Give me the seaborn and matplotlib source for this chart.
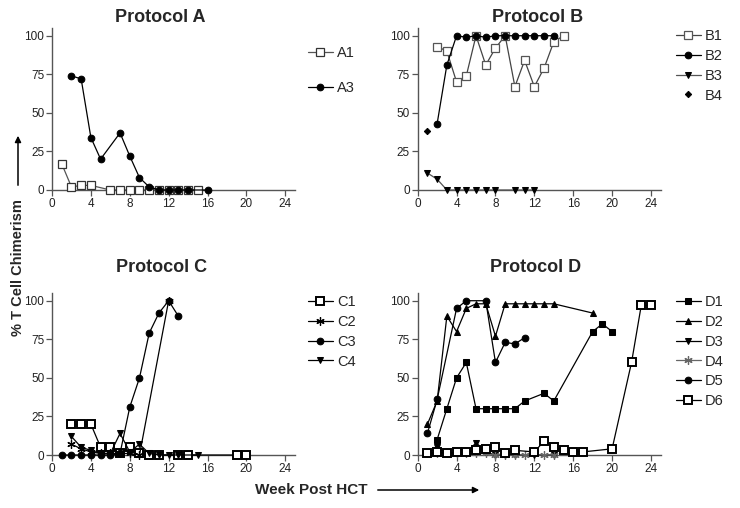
import numpy as np
import pandas as pd
import matplotlib
matplotlib.use("Agg")
import matplotlib.pyplot as plt
import seaborn as sns

# ---------------- data ----------------
A1_weeks = [1, 2, 3, 4, 6, 7, 8, 9, 10, 11, 12, 13, 14, 15]
A1_vals = [17, 2, 3, 3, 0, 0, 0, 0, 0, 0, 0, 0, 0, 0]
A3_weeks = [2, 3, 4, 5, 7, 8, 9, 10, 11, 12, 13, 14, 16]
A3_vals = [74, 72, 34, 20, 37, 22, 8, 2, 0, 0, 0, 0, 0]

B1_weeks = [2, 3, 4, 5, 6, 7, 8, 9, 10, 11, 12, 13, 14, 15]
B1_vals = [93, 90, 70, 74, 100, 81, 92, 100, 67, 84, 67, 79, 96, 100]
B2_weeks = [2, 3, 4, 5, 6, 7, 8, 9, 10, 11, 12, 13, 14]
B2_vals = [43, 81, 100, 99, 100, 99, 100, 100, 100, 100, 100, 100, 100]
B3_weeks = [1, 2, 3, 4, 5, 6, 7, 8, 10, 11, 12]
B3_vals = [11, 7, 0, 0, 0, 0, 0, 0, 0, 0, 0]
B4_weeks = [1]
B4_vals = [38]

C1_weeks = [2, 3, 4, 5, 6, 7, 8, 9, 10, 11, 13, 14, 19, 20]
C1_vals = [20, 20, 20, 5, 5, 1, 5, 1, 0, 0, 0, 0, 0, 0]
C2_weeks = [2, 3, 4, 5, 6, 7, 8, 9, 12]
C2_vals = [7, 4, 2, 1, 1, 1, 1, 0, 100]
C3_weeks = [1, 2, 3, 4, 5, 6, 7, 8, 9, 10, 11, 12, 13]
C3_vals = [0, 0, 0, 0, 0, 0, 1, 31, 50, 79, 92, 100, 90]
C4_weeks = [2, 3, 4, 5, 6, 7, 8, 9, 10, 11, 12, 13, 15]
C4_vals = [12, 5, 3, 1, 1, 14, 2, 7, 1, 0, 0, 0, 0]

D1_weeks = [2, 3, 4, 5, 6, 7, 8, 9, 10, 11, 13, 14, 18, 19, 20]
D1_vals = [10, 30, 50, 60, 30, 30, 30, 30, 30, 35, 40, 35, 80, 85, 80]
D2_weeks = [1, 2, 3, 4, 5, 6, 7, 8, 9, 10, 11, 12, 13, 14, 18]
D2_vals = [20, 35, 90, 80, 95, 98, 98, 77, 98, 98, 98, 98, 98, 98, 92]
D3_weeks = [1, 2, 3, 4, 5, 6, 7, 8, 9, 10, 12, 14]
D3_vals = [1, 5, 1, 1, 1, 8, 2, 0, 0, 0, 0, 0]
D4_weeks = [1, 2, 3, 4, 5, 6, 7, 8, 9, 10, 11, 13, 14]
D4_vals = [1, 1, 1, 1, 1, 1, 1, 0, 0, 0, 0, 0, 0]
D5_weeks = [1, 2, 4, 5, 7, 8, 9, 10, 11]
D5_vals = [14, 36, 95, 100, 100, 60, 73, 72, 76]
D6_weeks = [1, 2, 3, 4, 5, 6, 7, 8, 9, 10, 12, 13, 14, 15, 16, 17, 20, 22, 23, 24]
D6_vals = [1, 2, 1, 2, 2, 3, 4, 5, 1, 3, 2, 9, 5, 3, 2, 2, 4, 60, 97, 97]

titles = ["Protocol A", "Protocol B", "Protocol C", "Protocol D"]
x_ticks = [0, 4, 8, 12, 16, 20, 24]
y_ticks = [0, 25, 50, 75, 100]

# ---------------- styles ----------------
ASTER = (6, 2, 0)
MS = 4.8
open_sq = dict(marker="s", markerfacecolor="white", markersize=5.2)
styles = {
    "A1": dict(color="#555555", markeredgecolor="#333333", markeredgewidth=0.9, **open_sq),
    "A3": dict(color="black", marker="o", markersize=MS, markeredgecolor="black"),
    "B1": dict(color="#444444", markeredgecolor="#555555", markeredgewidth=0.9, **open_sq),
    "B2": dict(color="black", marker="o", markersize=MS, markeredgecolor="black"),
    "B3": dict(color="#555555", marker="v", markersize=MS, markeredgecolor="black", markerfacecolor="black"),
    "B4": dict(color="black", marker="D", markersize=3.2, markeredgecolor="black"),
    "C1": dict(color="black", markeredgecolor="black", markeredgewidth=1.4, **open_sq),
    "C2": dict(color="black", marker=ASTER, markersize=6, markeredgecolor="black", markeredgewidth=0.9),
    "C3": dict(color="black", marker="o", markersize=MS, markeredgecolor="black"),
    "C4": dict(color="black", marker="v", markersize=MS, markeredgecolor="black"),
    "D1": dict(color="black", marker="s", markersize=MS, markeredgecolor="black"),
    "D2": dict(color="black", marker="^", markersize=MS, markeredgecolor="black"),
    "D3": dict(color="black", marker="v", markersize=MS, markeredgecolor="black"),
    "D4": dict(color="#666666", marker=ASTER, markersize=6, markeredgecolor="#666666", markeredgewidth=0.9),
    "D5": dict(color="black", marker="o", markersize=MS, markeredgecolor="black"),
    "D6": dict(color="black", markeredgecolor="black", markeredgewidth=1.4, **open_sq),
}

panels = [
    [("A1", A1_weeks, A1_vals), ("A3", A3_weeks, A3_vals)],
    [("B1", B1_weeks, B1_vals), ("B2", B2_weeks, B2_vals), ("B3", B3_weeks, B3_vals), ("B4", B4_weeks, B4_vals)],
    [("C1", C1_weeks, C1_vals), ("C2", C2_weeks, C2_vals), ("C3", C3_weeks, C3_vals), ("C4", C4_weeks, C4_vals)],
    [("D1", D1_weeks, D1_vals), ("D2", D2_weeks, D2_vals), ("D3", D3_weeks, D3_vals),
     ("D4", D4_weeks, D4_vals), ("D5", D5_weeks, D5_vals), ("D6", D6_weeks, D6_vals)],
]

sns.set_theme(style="ticks")
plt.rcParams["font.family"] = ["Liberation Sans", "DejaVu Sans"]

W, H = 740, 508
fig = plt.figure(figsize=(W / 100, H / 100), dpi=100)

ax_w = 243 / W
ax_h = 162 / H
lefts = [52 / W, 417.7 / W, 52 / W, 417.7 / W]
bottoms = [1 - 190 / H, 1 - 190 / H, 1 - 455 / H, 1 - 455 / H]

# legend (x, y_top) in pixel coordinates and spacing
leg_pos = [(308, 46, 1.45), (676, 29, 0.4), (308, 295, 0.4), (676, 295, 0.4)]
title_pos = [(160, 17), (538, 17), (162, 268), (536, 268)]

for i, series in enumerate(panels):
    ax = fig.add_axes([lefts[i], bottoms[i], ax_w, ax_h])
    for name, wk, vals in series:
        df = pd.DataFrame({"week": wk, "value": vals})
        sns.lineplot(data=df, x="week", y="value", ax=ax, label=name,
                     linewidth=0.9, clip_on=False, zorder=3, **styles[name])
        if name == "B4":
            ax.lines[-1].set_linestyle("none")
    ax.set_xlim(0, 25)
    ax.set_ylim(0, 105)
    ax.set_xticks(x_ticks)
    ax.set_yticks(y_ticks)
    ax.set_xlabel("")
    ax.set_ylabel("")
    for s in ["top", "right"]:
        ax.spines[s].set_visible(False)
    for s in ["left", "bottom"]:
        ax.spines[s].set_color("#555555")
        ax.spines[s].set_linewidth(1.0)
    ax.tick_params(axis="both", length=4, width=0.9, color="#555555",
                   labelsize=8.5, labelcolor="#222222", pad=1.5)
    lx, ly, sp = leg_pos[i]
    leg = ax.legend(loc="upper left", bbox_to_anchor=(lx / W, 1 - ly / H),
                    bbox_transform=fig.transFigure, frameon=False, fontsize=10.5,
                    borderaxespad=0, borderpad=0, handlelength=1.7,
                    handletextpad=0.3, labelspacing=sp)
    tx, ty = title_pos[i]
    fig.text(tx / W, 1 - ty / H, titles[i], ha="center", va="center",
             fontsize=13, fontweight="bold")

# axis labels with arrows
fig.text(18 / W, 1 - 268 / H, "% T Cell Chimerism", rotation=90, ha="center",
         va="center", fontsize=10.5, fontweight="bold")
fig.text(311 / W, 1 - 490 / H, "Week Post HCT", ha="center", va="center",
         fontsize=11, fontweight="bold")
fig.add_artist(matplotlib.patches.FancyArrowPatch(
    (18 / W, 1 - 188 / H), (18 / W, 1 - 133 / H), transform=fig.transFigure,
    arrowstyle="-|>", mutation_scale=9, color="black", lw=1.1))
fig.add_artist(matplotlib.patches.FancyArrowPatch(
    (375 / W, 1 - 490 / H), (482 / W, 1 - 490 / H), transform=fig.transFigure,
    arrowstyle="-|>", mutation_scale=9, color="black", lw=1.1))

fig.savefig("out.png", dpi=100, facecolor="white")
